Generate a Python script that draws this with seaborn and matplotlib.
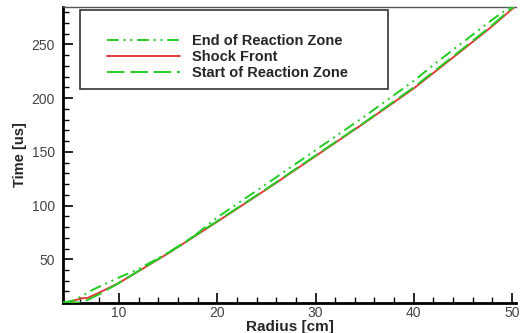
import numpy as np
import pandas as pd
import matplotlib
matplotlib.use("Agg")
import matplotlib.pyplot as plt
import seaborn as sns
from matplotlib.patches import Rectangle
from matplotlib.ticker import MultipleLocator

# Data
end_r = [4.3, 5.5, 7.3, 10, 12, 15, 17, 20, 25, 30, 35, 40, 42.3, 43.3, 45, 48, 50.3]
end_t = [9.5, 12, 21.5, 33, 41, 56, 67, 89, 120, 151.5, 183, 216, 233, 240, 252, 273, 288]

shock_r = [4.3, 5.0, 6.2, 6.8, 8, 10, 15, 20, 25, 30, 35, 40, 45, 48, 50.4]
shock_t = [9.0, 10.5, 13.7, 14.0, 19, 28, 55.5, 85, 115, 146, 177, 209, 245, 267, 286]

start_r = [4.3, 6.3, 8, 10, 15, 20, 25, 30, 35, 40, 45, 48, 50.4]
start_t = [9.8, 9.8, 17.5, 28, 56, 85.5, 115.5, 146.5, 177.5, 210, 246, 268, 287]

labels = ["End of Reaction Zone", "Shock Front", "Start of Reaction Zone"]

sns.set_theme(style="white")
plt.rcParams['font.family'] = ['Liberation Sans', 'DejaVu Sans']

fig = plt.figure(figsize=(5.21, 3.33), dpi=100)
ax = fig.add_axes([63/521, 1-303/333, (516-63)/521, (303-7)/333])

green = "#22cc22"
red = "#e23b3b"

sns.lineplot(x=shock_r, y=shock_t, ax=ax, color=red, lw=1.4, label=labels[1], zorder=2)
sns.lineplot(x=start_r, y=start_t, ax=ax, color=green, lw=1.4, label=labels[2],
             dashes=False, zorder=3)
sns.lineplot(x=end_r, y=end_t, ax=ax, color=green, lw=1.4, label=labels[0], zorder=3)

lines = ax.get_lines()
lines[1].set_linestyle((0, (9, 3)))
lines[2].set_linestyle((0, (6, 2.5, 1, 2.5, 1, 2.5)))

ax.set_xlim(4.3, 50.4)
ax.set_ylim(9.3, 284.7)

ax.xaxis.set_major_locator(MultipleLocator(10))
ax.xaxis.set_minor_locator(MultipleLocator(2))
ax.yaxis.set_major_locator(MultipleLocator(50))
ax.yaxis.set_minor_locator(MultipleLocator(10))
ax.tick_params(which="major", direction="in", length=7, width=1.2, color="black",
               labelsize=10, labelcolor="#444444", bottom=True, left=True)
ax.tick_params(axis="y", which="major", pad=6)
ax.tick_params(axis="x", which="major", pad=2)
ax.tick_params(which="minor", direction="in", length=4, width=1.0, color="black",
               bottom=True, left=True)

for s in ["left", "bottom"]:
    ax.spines[s].set_color("black")
    ax.spines[s].set_linewidth(2)
ax.spines["top"].set_color("#555555")
ax.spines["top"].set_linewidth(1)
ax.spines["right"].set_visible(False)

ax.set_xlabel("Radius [cm]", fontsize=11, fontweight="bold", labelpad=0)
ax.set_ylabel("Time [us]", fontsize=10.5, fontweight="bold", labelpad=3)

# Legend box
handles = [lines[2], lines[0], lines[1]]
leg = ax.legend(handles, labels, loc="upper left",
                bbox_to_anchor=((94 - 63) / 453, 1 - (21 - 7) / 296),
                frameon=False, handlelength=5.0, handletextpad=0.8,
                labelspacing=0.12, prop={"weight": "bold", "size": 10.5})
rect = Rectangle(((80 - 63) / 453, 1 - (89 - 7) / 296), (388 - 80) / 453, (89 - 10) / 296,
                 transform=ax.transAxes, fill=True, facecolor="white",
                 edgecolor="#333333", lw=1.2, zorder=4)
ax.add_patch(rect)
leg.set_zorder(5)

fig.savefig("out.png", dpi=100)
